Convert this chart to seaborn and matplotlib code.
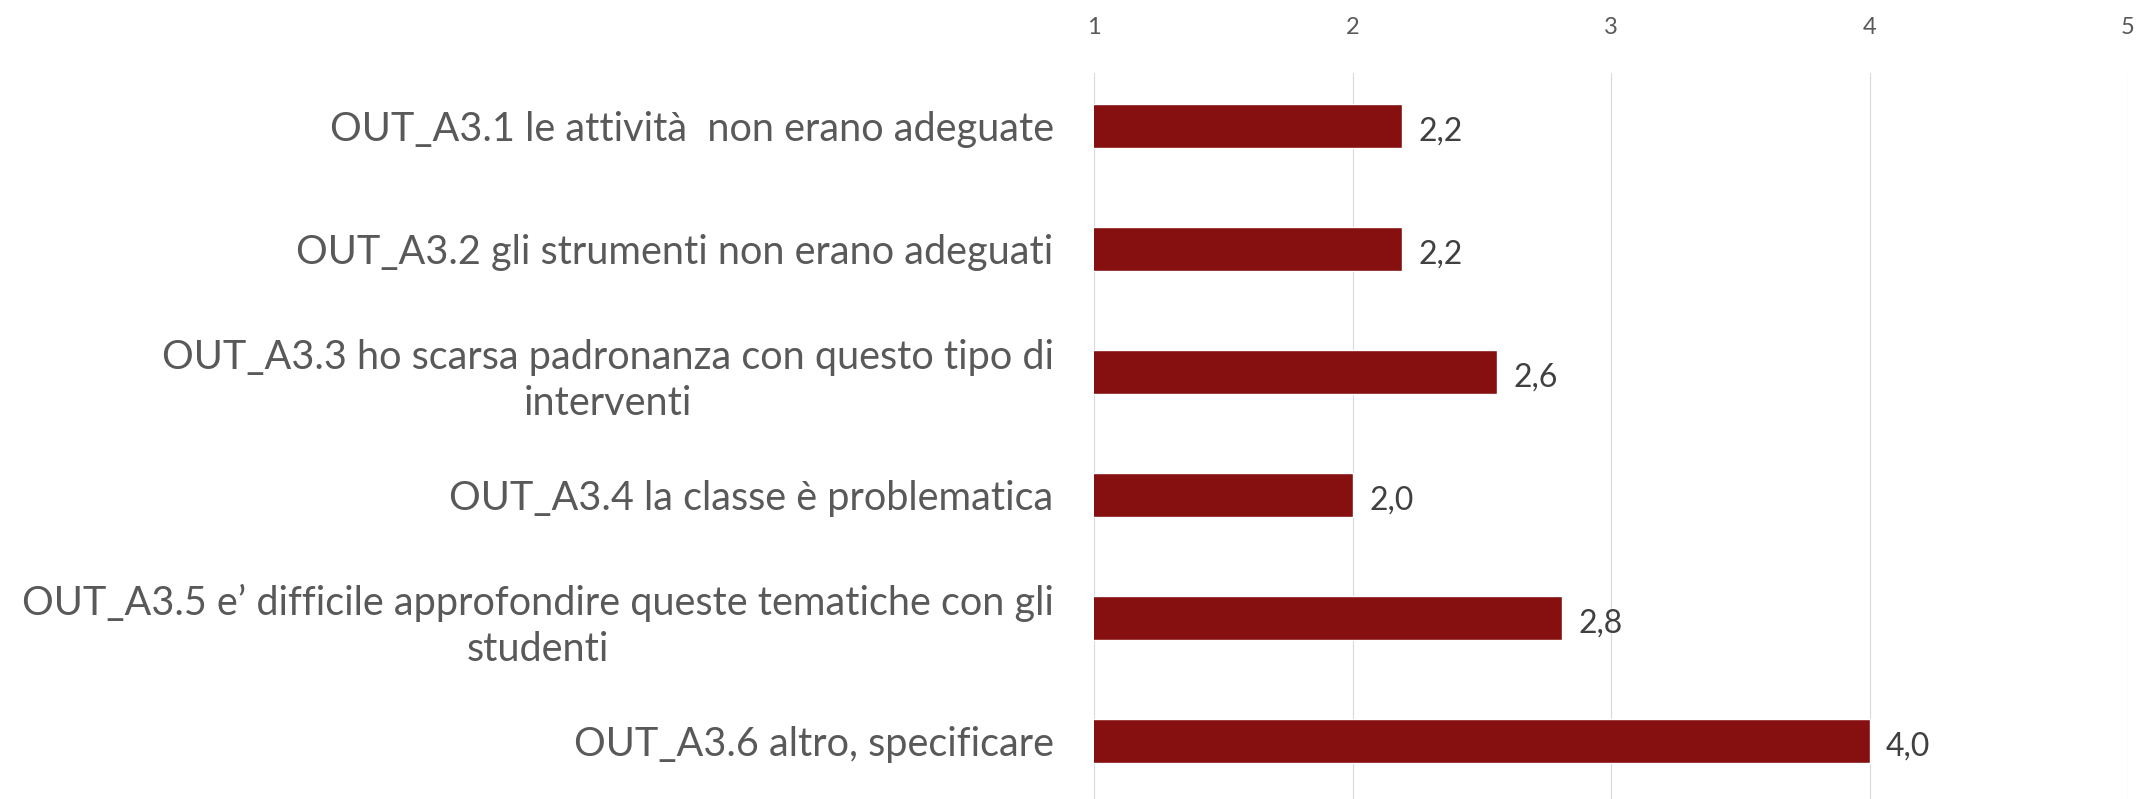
import matplotlib
matplotlib.use("Agg")
import matplotlib.pyplot as plt
import pandas as pd
import seaborn as sns

# Data
categories = [
    "OUT_A3.1 le attività  non erano adeguate",
    "OUT_A3.2 gli strumenti non erano adeguati",
    "OUT_A3.3 ho scarsa padronanza con questo tipo di\ninterventi",
    "OUT_A3.4 la classe è problematica",
    "OUT_A3.5 e’ difficile approfondire queste tematiche con gli\nstudenti",
    "OUT_A3.6 altro, specificare",
]
values = [2.19, 2.19, 2.56, 2.0, 2.81, 4.0]
x_ticks = [1, 2, 3, 4, 5]

BAR_COLOR = "#861010"
TEXT_GREY = "#595959"
VALUE_GREY = "#404040"
GRID_GREY = "#d9d9d9"

sns.set_theme(style="white")
plt.rcParams["font.family"] = ["Lato", "DejaVu Sans"]

df = pd.DataFrame({"item": categories, "score": values})

W, H = 2136, 799
fig = plt.figure(figsize=(W / 100, H / 100), dpi=100)
# plot area measured in pixels on the reference
left, right, top, bottom = 1094, 2128, 73, 799
ax = fig.add_axes([left / W, (H - bottom) / H, (right - left) / W, (bottom - top) / H])

sns.barplot(data=df, x="score", y="item", orient="h", color=BAR_COLOR,
            width=0.36, saturation=1, ax=ax, zorder=3)

ax.set_xlim(1, 5)
ax.set_ylim(5.47, -0.43)
ax.set_xticks(x_ticks)
ax.set_xticklabels([str(t) for t in x_ticks])
ax.xaxis.tick_top()
ax.tick_params(axis="x", length=0, pad=25, labelsize=17, labelcolor=TEXT_GREY)
ax.tick_params(axis="y", length=0, pad=29, labelsize=28.5, labelcolor=TEXT_GREY)
for lbl in ax.get_yticklabels():
    lbl.set_multialignment("center")
    lbl.set_linespacing(1.3)

ax.grid(axis="x", color=GRID_GREY, linewidth=0.8, zorder=0)
ax.grid(axis="y", visible=False)
for s in ax.spines.values():
    s.set_visible(False)
ax.set_xlabel("")
ax.set_ylabel("")

labels = [f"{v:.1f}".replace(".", ",") for v in values]
texts = ax.bar_label(ax.containers[0], labels=labels, padding=12, fontsize=23,
                     color=VALUE_GREY, clip_on=False)
for t in texts:
    t.xyann = (12, -4)

fig.savefig("out.png", dpi=100)
